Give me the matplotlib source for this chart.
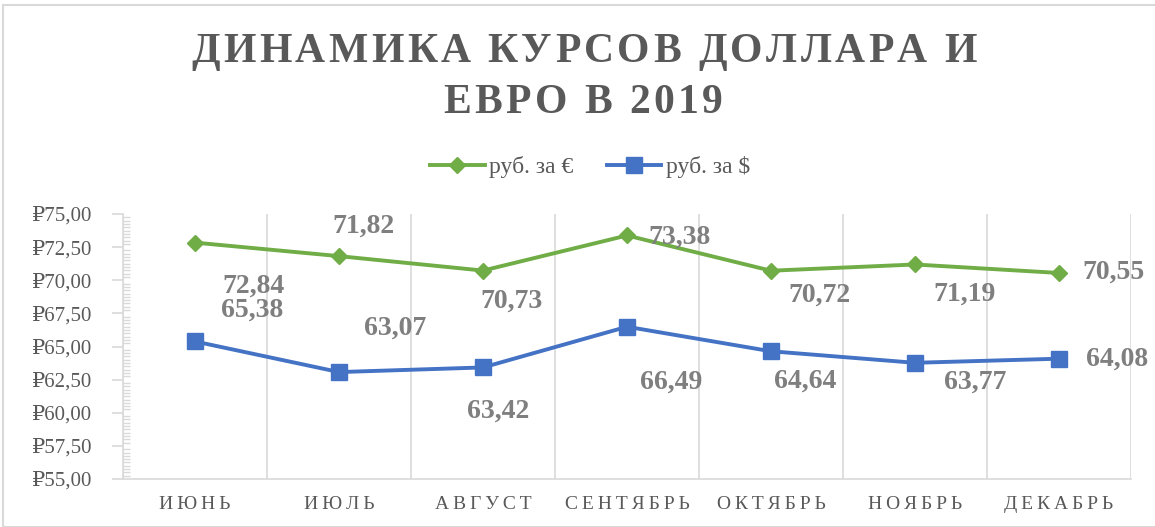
import matplotlib.pyplot as plt
import matplotlib.ticker as mticker
from matplotlib.patches import Rectangle
from matplotlib.font_manager import FontProperties, findfont
from matplotlib.ft2font import FT2Font
import numpy as np

months = ['ИЮНЬ', 'ИЮЛЬ', 'АВГУСТ', 'СЕНТЯБРЬ', 'ОКТЯБРЬ', 'НОЯБРЬ', 'ДЕКАБРЬ']
euro = [72.84, 71.82, 70.73, 73.38, 70.72, 71.19, 70.55]
dollar = [65.38, 63.07, 63.42, 66.49, 64.64, 63.77, 64.08]
title_lines = ['ДИНАМИКА КУРСОВ ДОЛЛАРА И', 'ЕВРО В 2019']

# label offsets in pixels (dx, dy) as Excel placed them
euro_off = [(59, -44), (25, 30), (29, -31), (52, -2), (48, -24), (50, -30), (55, 1)]
dollar_off = [(57, 31), (56, 44), (15, -44), (44, -55), (34, -30), (60, -19), (58, 0)]

serif = ['Liberation Serif', 'DejaVu Serif']
gray = '#595959'
green = '#70AD47'
blue = '#4472C4'
W, H = 1155, 527


def spaced(s, sp='\u2009'):
    return sp.join(s)


def tracked_text(fig, s, xc, ybase, size, track, **kw):
    # draw a string with extra letter spacing (pixels), centred at xc, baseline at ybase
    fp = FontProperties(family='Liberation Serif', weight='bold')
    font = FT2Font(findfont(fp))
    font.set_size(size, 100)
    adv = [font.load_char(ord(c)).linearHoriAdvance / 65536 for c in s]
    total = sum(adv) + track * (len(s) - 1)
    xpos = xc - total / 2
    for c, a in zip(s, adv):
        fig.text(xpos / W, 1 - ybase / H, c, ha='left', va='baseline', fontsize=size,
                 fontweight='bold', family=serif, **kw)
        xpos += a + track


fig = plt.figure(figsize=(W / 100, H / 100), dpi=100)
fig.patches.append(Rectangle((3 / W, 0), 1.0, 1 - 5 / H, transform=fig.transFigure,
                             fill=False, edgecolor='#d9d9d9', linewidth=1.5))

ax = fig.add_axes([123 / W, 48 / H, 1008 / W, 265 / H])
x = np.arange(len(months))

ax.plot(x, euro, color=green, linewidth=2.8, marker='D', markersize=8.5, label='руб. за €')
ax.plot(x, dollar, color=blue, linewidth=2.8, marker='s', markersize=12, label='руб. за $')

lab_style = dict(textcoords='offset pixels', ha='center', va='center', fontsize=20,
                 fontweight='bold', color='#7f7f7f', family=serif)
for i in range(len(x)):
    ax.annotate(f'{euro[i]:.2f}'.replace('.', ','), (x[i], euro[i]),
                xytext=euro_off[i], **lab_style)
    ax.annotate(f'{dollar[i]:.2f}'.replace('.', ','), (x[i], dollar[i]),
                xytext=dollar_off[i], **lab_style)

ax.set_xlim(-0.5, len(months) - 0.5)
ax.set_ylim(55, 75)
ax.yaxis.set_major_locator(mticker.MultipleLocator(2.5))
ax.yaxis.set_minor_locator(mticker.MultipleLocator(0.25))
ax.yaxis.set_major_formatter(mticker.FuncFormatter(lambda v, p: '₽' + f'{v:.2f}'.replace('.', ',')))
ax.set_xticks(x)
ax.set_xticklabels([spaced(m) for m in months])
ax.set_xticks(np.arange(len(months) + 1) - 0.5, minor=True)
ax.grid(axis='x', which='minor', color='#d9d9d9', linewidth=1.2)
ax.tick_params(axis='x', which='both', length=0, pad=12, labelsize=14, labelcolor=gray)
ax.tick_params(axis='y', which='major', length=8, direction='out', color='#d9d9d9',
               width=1.2, labelsize=15, labelcolor=gray, pad=14)
ax.tick_params(axis='y', which='minor', length=5, direction='in', color='#d9d9d9', width=1)
for t in ax.get_xticklabels() + ax.get_yticklabels():
    t.set_family(serif)

for s in ['top', 'right']:
    ax.spines[s].set_visible(False)
for s in ['left', 'bottom']:
    ax.spines[s].set_color('#d9d9d9')
    ax.spines[s].set_linewidth(1.2)

tracked_text(fig, title_lines[0], 584, 62, 30, 3.4, color=gray)
tracked_text(fig, title_lines[1], 583, 113, 30, 3.4, color=gray)

fig.legend(loc='center', bbox_to_anchor=(590 / W, 1 - 167 / H), ncol=2, frameon=False,
           prop={'family': serif, 'size': 17}, labelcolor=gray, handlelength=2.3,
           handletextpad=0.2, columnspacing=1.4)

fig.savefig('out.png', dpi=100)
